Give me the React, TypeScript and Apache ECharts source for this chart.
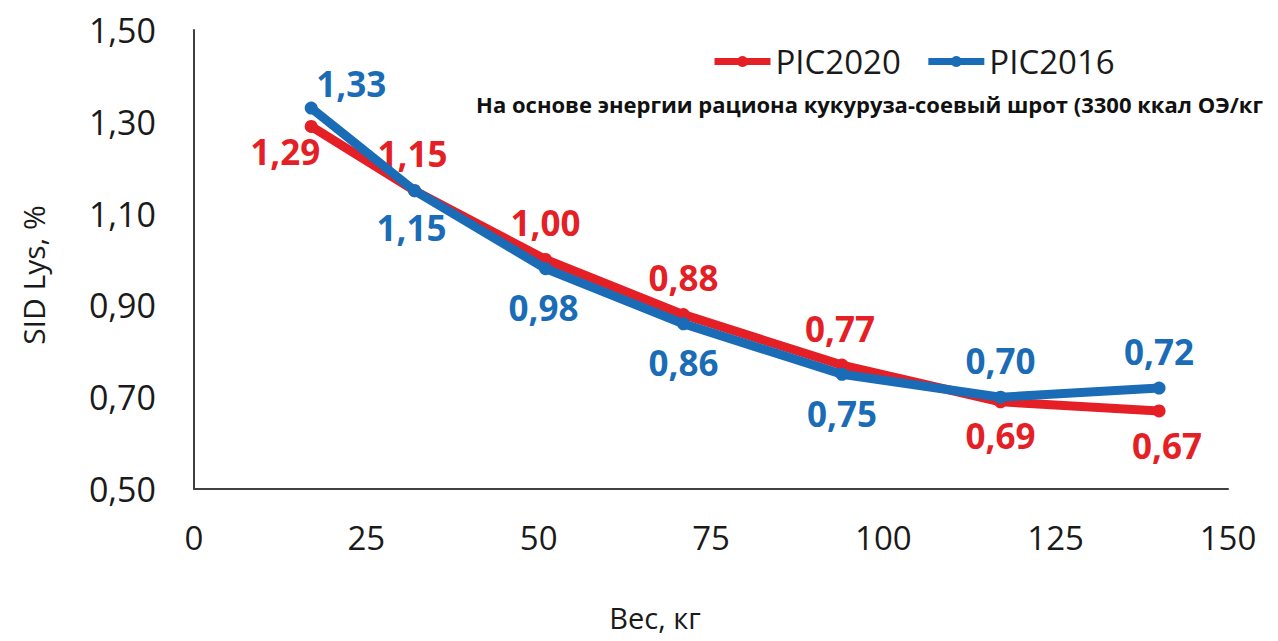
import React, { useEffect, useRef } from "react";
import * as echarts from "echarts";

const weights = [17, 32, 51, 71, 94, 117, 140];
const pic2020 = [1.29, 1.15, 1.0, 0.88, 0.77, 0.69, 0.67];
const pic2016 = [1.33, 1.15, 0.98, 0.86, 0.75, 0.7, 0.72];
const yTicks = [0.5, 0.7, 0.9, 1.1, 1.3, 1.5];
const seriesNames = ["PIC2020", "PIC2016"];
const subtitle = "На основе энергии рациона кукуруза-соевый шрот (3300 ккал ОЭ/кг";
const xName = "Вес, кг";
const yName = "SID Lys, %";

const RED = "#e41f26";
const BLUE = "#1b6cb6";
const FONT = "'Open Sans', 'Noto Sans', sans-serif";

const fmt = (v: number) => v.toFixed(2).replace(".", ",");

// label placement (style only)
const redLabelPos = [
  { position: "bottom", offset: [-26, -12] },
  { position: "top", offset: [-2, 0] },
  { position: "top", offset: [0, 0] },
  { position: "top", offset: [0, 0] },
  { position: "top", offset: [-2, 0] },
  { position: "bottom", offset: [0, -3] },
  { position: "bottom", offset: [8, -2] },
];
const blueLabelPos = [
  { position: "top", offset: [40, 12] },
  { position: "bottom", offset: [-3, 0] },
  { position: "bottom", offset: [-2, 2] },
  { position: "bottom", offset: [0, 2] },
  { position: "bottom", offset: [0, 2] },
  { position: "top", offset: [0, 0] },
  { position: "top", offset: [0, 0] },
];

export default function App() {
  const ref = useRef<HTMLDivElement>(null);
  useEffect(() => {
    if (!ref.current) return;
    const chart = echarts.init(ref.current, null, { renderer: "svg" });
    const mk = (vals: number[], pos: any[]) =>
      vals.map((v, i) => ({
        value: [weights[i], v],
        label: {
          position: pos[i].position,
          offset: pos[i].offset,
        },
      }));
    const labelBase = (color: string) => ({
      show: true,
      formatter: (p: any) => fmt(p.value[1]),
      color,
      fontFamily: FONT,
      fontWeight: "bold",
      fontSize: 35,
      distance: 13,
    });
    chart.setOption({
      animation: false,
      backgroundColor: "#ffffff",
      grid: { left: 194, right: 50, top: 30, bottom: 152, containLabel: false },
      legend: {
        left: 706,
        top: 40,
        itemWidth: 56,
        itemHeight: 14,
        itemGap: 24,
        lineStyle: { width: 7 },
        textStyle: { fontFamily: FONT, fontSize: 33, color: "#1a1a1a" },
        data: seriesNames,
      },
      xAxis: {
        type: "value",
        min: 0,
        max: 150,
        interval: 25,
        axisLine: { show: true, lineStyle: { color: "#404040", width: 2 } },
        axisTick: { show: false },
        splitLine: { show: false },
        axisLabel: {
          fontFamily: FONT,
          fontSize: 33,
          color: "#1a1a1a",
          margin: 32,
        },
      },
      yAxis: {
        type: "value",
        min: 0.5,
        max: 1.5,
        axisLine: { show: true, lineStyle: { color: "#404040", width: 2 } },
        axisTick: { show: false },
        splitLine: { show: false },
        axisLabel: {
          customValues: yTicks,
          formatter: (v: number) => fmt(v),
          fontFamily: FONT,
          fontSize: 34,
          color: "#1a1a1a",
          margin: 38,
        },
      },
      graphic: [
        {
          type: "text",
          right: 15,
          top: 93,
          style: {
            text: subtitle,
            fontFamily: FONT,
            fontWeight: "bold",
            fontSize: 22,
            fill: "#111",
          },
        },
        {
          type: "text",
          x: 655,
          y: 617,
          style: {
            text: xName,
            fontFamily: FONT,
            fontSize: 29,
            fill: "#1a1a1a",
            textAlign: "center",
            textVerticalAlign: "middle",
          },
        },
        {
          type: "text",
          x: 33,
          y: 275,
          rotation: Math.PI / 2,
          style: {
            text: yName,
            fontFamily: FONT,
            fontSize: 30,
            fill: "#1a1a1a",
            textAlign: "center",
            textVerticalAlign: "middle",
          },
        },
      ],
      series: [
        {
          name: seriesNames[0],
          type: "line",
          data: mk(pic2020, redLabelPos),
          symbol: "circle",
          symbolSize: 13,
          lineStyle: { color: RED, width: 9 },
          itemStyle: { color: RED },
          label: labelBase(RED),
          z: 2,
        },
        {
          name: seriesNames[1],
          type: "line",
          data: mk(pic2016, blueLabelPos),
          symbol: "circle",
          symbolSize: 13,
          lineStyle: { color: BLUE, width: 9 },
          itemStyle: { color: BLUE },
          label: labelBase(BLUE),
          z: 3,
        },
      ],
    });
    return () => chart.dispose();
  }, []);
  return (
    <div
      ref={ref}
      style={{ position: "fixed", left: 0, top: 0, width: 1278, height: 641 }}
    />
  );
}
